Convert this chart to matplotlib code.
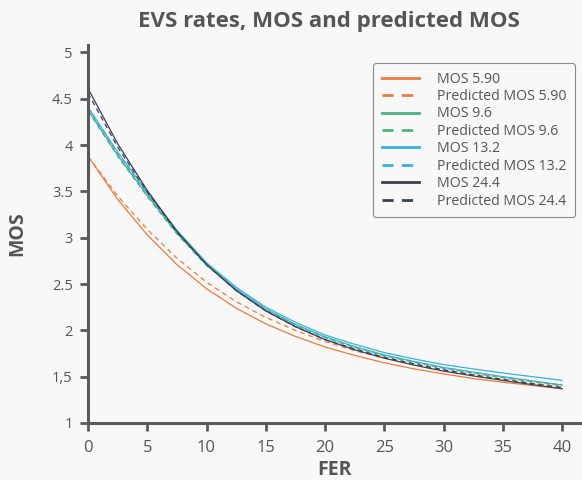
import matplotlib
matplotlib.use("Agg")
import matplotlib.pyplot as plt

plt.rcParams['font.family'] = ['Open Sans', 'DejaVu Sans']

# Frame error rate (%)
fer = [0, 2.5, 5, 7.5, 10, 12.5, 15, 17.5, 20, 22.5, 25, 27.5, 30, 32.5, 35, 37.5, 40]

mos_590 = [3.88, 3.415, 3.03, 2.71, 2.45, 2.24, 2.07, 1.935, 1.82, 1.73, 1.65, 1.585, 1.53, 1.48, 1.44, 1.405, 1.37]
pred_590 = [3.88, 3.45, 3.09, 2.78, 2.52, 2.31, 2.14, 2.00, 1.88, 1.78, 1.70, 1.63, 1.57, 1.52, 1.47, 1.43, 1.39]
mos_96 = [4.38, 3.89, 3.455, 3.05, 2.71, 2.445, 2.23, 2.065, 1.93, 1.825, 1.735, 1.665, 1.60, 1.55, 1.50, 1.455, 1.41]
pred_96 = [4.37, 3.88, 3.445, 3.04, 2.70, 2.435, 2.22, 2.055, 1.92, 1.815, 1.725, 1.655, 1.59, 1.54, 1.49, 1.445, 1.40]
mos_132 = [4.41, 3.925, 3.49, 3.08, 2.73, 2.465, 2.25, 2.087, 1.95, 1.85, 1.76, 1.692, 1.63, 1.584, 1.54, 1.50, 1.46]
pred_132 = [4.40, 3.91, 3.475, 3.07, 2.72, 2.45, 2.23, 2.06, 1.925, 1.82, 1.73, 1.66, 1.595, 1.54, 1.49, 1.45, 1.41]
mos_244 = [4.61, 4.015, 3.51, 3.07, 2.71, 2.43, 2.21, 2.04, 1.90, 1.79, 1.70, 1.625, 1.56, 1.508, 1.46, 1.414, 1.37]
pred_244 = [4.56, 3.98, 3.49, 3.06, 2.71, 2.43, 2.21, 2.04, 1.90, 1.80, 1.71, 1.64, 1.575, 1.52, 1.47, 1.425, 1.38]

labels = ["MOS 5.90", "Predicted MOS 5.90", "MOS 9.6", "Predicted MOS 9.6",
          "MOS 13.2", "Predicted MOS 13.2", "MOS 24.4", "Predicted MOS 24.4"]
values = [mos_590, pred_590, mos_96, pred_96, mos_132, pred_132, mos_244, pred_244]
colors = ["#f07a3c", "#f07a3c", "#4db384", "#4db384",
          "#35b1e6", "#35b1e6", "#3b4152", "#3b4152"]
styles = ["-", "--", "-", "--", "-", "--", "-", "--"]

y_ticks = [1, 1.5, 2, 2.5, 3, 3.5, 4, 4.5, 5]
y_tick_labels = ["1", "1,5", "2", "2.5", "3", "3.5", "4", "4.5", "5"]
x_ticks = [0, 5, 10, 15, 20, 25, 30, 35, 40]

bg = "#f8f8f8"
ink = "#555555"
axis_col = "#5a5a5a"

fig = plt.figure(figsize=(5.82, 4.80), dpi=100, facecolor=bg)
ax = fig.add_axes([88 / 582, 57 / 480, (581 - 88) / 582, (423 - 45) / 480])
ax.set_facecolor(bg)

for label, vals, color, ls in zip(labels, values, colors, styles):
    line, = ax.plot(fer, vals, color=color, linestyle=ls, linewidth=0.9, label=label)
    if ls == "--":
        line.set_dashes((4, 3))

ax.set_xlim(0, 41.6)
ax.set_ylim(1, 5.08)
ax.set_xticks(x_ticks)
ax.set_yticks(y_ticks)
ax.set_yticklabels(y_tick_labels)

for side in ("top", "right"):
    ax.spines[side].set_visible(False)
for side in ("left", "bottom"):
    ax.spines[side].set_color(axis_col)
    ax.spines[side].set_linewidth(2.2)

ax.tick_params(axis="both", direction="out", length=6, width=2, color=axis_col,
               labelcolor=ink, pad=5)
ax.tick_params(axis="x", labelsize=12, pad=6)
ax.tick_params(axis="y", labelsize=10.5)

ax.set_xlabel("FER", fontsize=14, fontweight="bold", color=ink, labelpad=3)
ax.set_ylabel("MOS", fontsize=14, fontweight="bold", color=ink, labelpad=18)
fig.suptitle("EVS rates, MOS and predicted MOS", x=0.565, y=0.977,
             fontsize=16, fontweight="bold", color=ink)

leg = ax.legend(loc="upper right", bbox_to_anchor=(0.988, 0.952), borderaxespad=0,
                fontsize=10.2, frameon=True, facecolor=bg, edgecolor="#8a8a8a",
                framealpha=1, handlelength=2.6, labelspacing=0.17, borderpad=0.6,
                handletextpad=1.3)
for t in leg.get_texts():
    t.set_color(ink)
for h in leg.get_lines():
    h.set_linewidth(2)
leg.get_frame().set_linewidth(0.8)

fig.savefig("out.png", dpi=100, facecolor=bg)
